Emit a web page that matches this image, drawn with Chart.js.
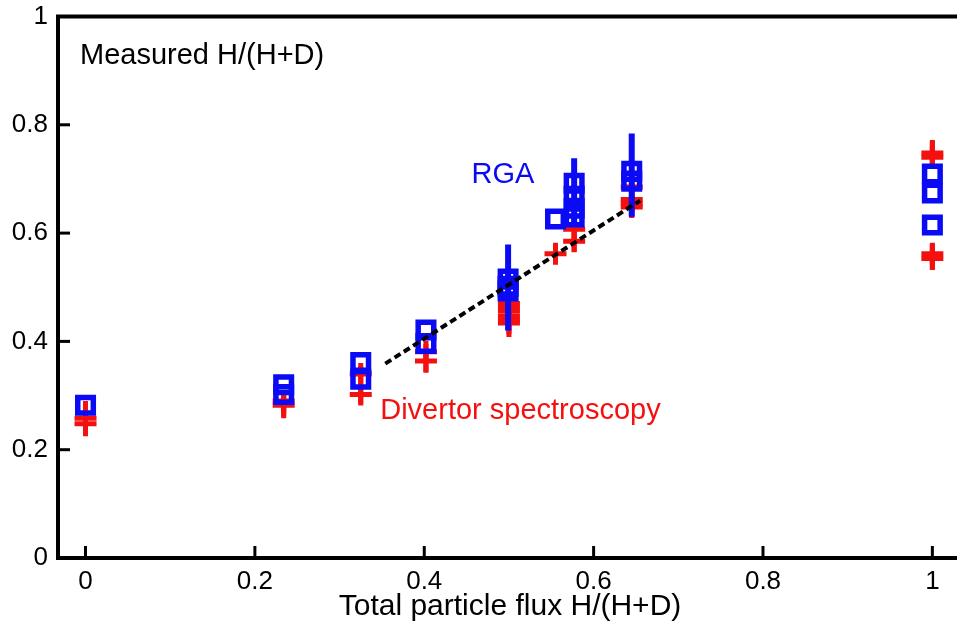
<!DOCTYPE html>
<html>
<head>
<meta charset="utf-8">
<script src="https://cdn.jsdelivr.net/npm/chart.js@4/dist/chart.umd.min.js"></script>
<style>
  html, body { margin: 0; padding: 0; background: #fff; overflow: hidden; }
  #wrap { width: 980px; height: 625px; }
</style>
</head>
<body>
<div id="wrap"><canvas id="chart" width="980" height="625"></canvas></div>
<script>
// RGA points (blue squares)
const rgaX = [0, 0.234, 0.234, 0.325, 0.325, 0.402, 0.402, 0.499, 0.499, 0.499, 0.555, 0.577, 0.577, 0.577, 0.577, 0.645, 0.645, 1, 1, 1];
const rgaY = [0.282, 0.32, 0.302, 0.361, 0.33, 0.421, 0.396, 0.515, 0.502, 0.493, 0.626, 0.692, 0.668, 0.646, 0.63, 0.714, 0.696, 0.709, 0.674, 0.615];

// divertor spectroscopy points (red plus)
const specX = [0, 0, 0.234, 0.234, 0.325, 0.325, 0.402, 0.402, 0.5, 0.5, 0.5, 0.5, 0.5, 0.5, 0.555, 0.577, 0.577, 0.645, 0.645, 0.645, 0.645, 1, 1, 1, 1];
const specY = [0.258, 0.248, 0.29, 0.282, 0.34, 0.302, 0.381, 0.364, 0.47, 0.463, 0.456, 0.447, 0.44, 0.434, 0.562, 0.607, 0.585, 0.685, 0.662, 0.655, 0.648, 0.748, 0.74, 0.562, 0.553];

// vertical error bars
const rgaErrX = [0.499, 0.577, 0.645];
const rgaErrLo = [0.42, 0.62, 0.63];
const rgaErrHi = [0.579, 0.738, 0.784];
const specErrX = [0, 0.234, 0.325, 0.402, 0.5, 0.555, 0.577, 0.645, 1, 1];
const specErrLo = [0.225, 0.258, 0.285, 0.342, 0.408, 0.545, 0.565, 0.64, 0.725, 0.532];
const specErrHi = [0.29, 0.3, 0.355, 0.395, 0.475, 0.58, 0.63, 0.7, 0.772, 0.58];

// dashed trend line
const fitX = [0.354, 0.655];
const fitY = [0.359, 0.66];

const xTicks = [0, 0.2, 0.4, 0.6, 0.8, 1];
const xTickLabels = ["0", "0.2", "0.4", "0.6", "0.8", "1"];
const yTicks = [0, 0.2, 0.4, 0.6, 0.8, 1];
const yTickLabels = ["0", "0.2", "0.4", "0.6", "0.8", "1"];

const BLUE = "#0a0af5";
const RED = "#f51010";
const FONT = "'Liberation Sans', Arial, sans-serif";

const toPts = (xs, ys) => xs.map((x, i) => ({ x: x, y: ys[i] }));

const errorBars = {
  id: "errorBars",
  afterDatasetDraw(chart, args) {
    if (args.meta.label !== "spec") return;
    const { ctx, scales } = chart;
    const xs = scales.x, ys = scales.y;
    ctx.save();
    ctx.beginPath();
    ctx.rect(chart.chartArea.left, chart.chartArea.top, chart.chartArea.width, chart.chartArea.height);
    ctx.clip();
    ctx.lineCap = "butt";
    ctx.strokeStyle = RED;
    ctx.lineWidth = 5;
    specErrX.forEach((x, i) => {
      ctx.beginPath();
      ctx.moveTo(xs.getPixelForValue(x), ys.getPixelForValue(specErrLo[i]));
      ctx.lineTo(xs.getPixelForValue(x), ys.getPixelForValue(specErrHi[i]));
      ctx.stroke();
    });
    ctx.strokeStyle = BLUE;
    ctx.lineWidth = 6;
    rgaErrX.forEach((x, i) => {
      ctx.beginPath();
      ctx.moveTo(xs.getPixelForValue(x), ys.getPixelForValue(rgaErrLo[i]));
      ctx.lineTo(xs.getPixelForValue(x), ys.getPixelForValue(rgaErrHi[i]));
      ctx.stroke();
    });
    ctx.restore();
  }
};

const frameAndText = {
  id: "frameAndText",
  afterDraw(chart) {
    const { ctx, chartArea: a, scales } = chart;
    const xs = scales.x, ys = scales.y;
    ctx.save();
    ctx.strokeStyle = "#000";
    // inward ticks
    ctx.lineWidth = 3;
    xTicks.forEach((v) => {
      const px = xs.getPixelForValue(v);
      ctx.beginPath();
      ctx.moveTo(px, a.bottom);
      ctx.lineTo(px, a.bottom - 12);
      ctx.stroke();
    });
    yTicks.forEach((v) => {
      const py = ys.getPixelForValue(v);
      ctx.beginPath();
      ctx.moveTo(a.left, py);
      ctx.lineTo(a.left + 12, py);
      ctx.stroke();
    });
    ctx.lineWidth = 4;
    ctx.strokeRect(a.left, a.top, a.width, a.height);

    ctx.textBaseline = "middle";
    ctx.font = "29px " + FONT;
    ctx.fillStyle = "#000";
    ctx.textAlign = "left";
    ctx.fillText("Measured H/(H+D)", xs.getPixelForValue(-0.0065), ys.getPixelForValue(0.927));
    ctx.fillStyle = BLUE;
    ctx.textAlign = "center";
    ctx.fillText("RGA", xs.getPixelForValue(0.493), ys.getPixelForValue(0.707));
    ctx.fillStyle = RED;
    ctx.textAlign = "left";
    ctx.fillText("Divertor spectroscopy", xs.getPixelForValue(0.348), ys.getPixelForValue(0.271));
    ctx.restore();
  }
};

new Chart(document.getElementById("chart"), {
  type: "scatter",
  data: {
    datasets: [
      {
        label: "fit",
        type: "line",
        data: toPts(fitX, fitY),
        borderColor: "#000",
        borderWidth: 4,
        borderDash: [7, 4],
        pointRadius: 0,
        fill: false,
        order: 1
      },
      {
        label: "rga",
        data: toPts(rgaX, rgaY),
        pointStyle: "rect",
        pointRadius: 11,
        pointHoverRadius: 11,
        borderWidth: 5.5,
        borderColor: BLUE,
        backgroundColor: "rgba(0,0,0,0)",
        order: 2
      },
      {
        label: "spec",
        data: toPts(specX, specY),
        pointStyle: "cross",
        pointRadius: 11,
        pointHoverRadius: 11,
        borderWidth: 5,
        borderColor: RED,
        backgroundColor: RED,
        order: 3
      }
    ]
  },
  options: {
    responsive: false,
    animation: false,
    events: [],
    layout: { padding: { top: 12, right: 18, left: 0, bottom: 0 } },
    plugins: {
      legend: { display: false },
      tooltip: { enabled: false }
    },
    scales: {
      x: {
        type: "linear",
        min: -0.0325,
        max: 1.035,
        grid: { display: false },
        border: { display: false },
        afterBuildTicks: (scale) => { scale.ticks = xTicks.map((v) => ({ value: v })); },
        afterFit: (scale) => { scale.height = 67; scale.paddingLeft = 0; scale.paddingRight = 0; },
        ticks: {
          autoSkip: false,
          maxRotation: 0,
          padding: 0,
          color: "#000",
          font: { family: FONT, size: 26 },
          callback: (v, i) => xTickLabels[i]
        },
        title: {
          display: true,
          text: "Total particle flux H/(H+D)",
          color: "#000",
          font: { family: FONT, size: 30 },
          padding: { top: 0, bottom: 0 }
        }
      },
      y: {
        type: "linear",
        min: 0,
        max: 1,
        grid: { display: false },
        border: { display: false },
        afterBuildTicks: (scale) => { scale.ticks = yTicks.map((v) => ({ value: v })); },
        afterFit: (scale) => { scale.width = 58; scale.paddingTop = 0; scale.paddingBottom = 0; },
        ticks: {
          autoSkip: false,
          padding: 2,
          color: "#000",
          font: { family: FONT, size: 26 },
          callback: (v, i) => yTickLabels[i]
        }
      }
    }
  },
  plugins: [errorBars, frameAndText]
});
</script>
</body>
</html>
